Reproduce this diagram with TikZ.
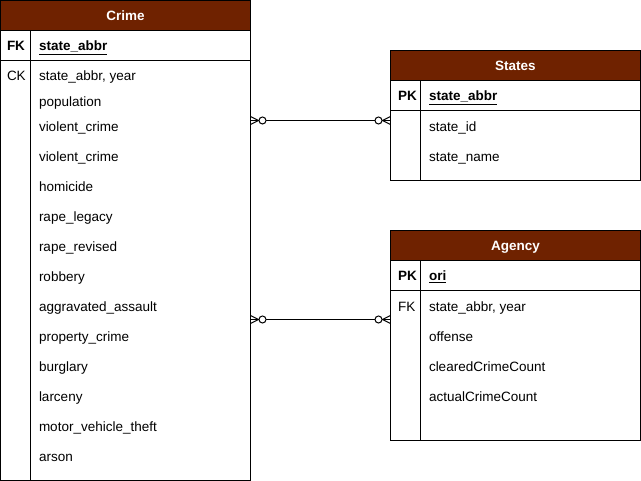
\documentclass[tikz,border=0pt]{standalone}
\usepackage{fontspec}
\setmainfont{Liberation Sans}
\usetikzlibrary{positioning}
\definecolor{hdrbrown}{RGB}{111,34,0}
\tikzset{
	hdrtext/.style={text=white, yshift=-1.5pt, text height=10pt, text depth=3pt, font=\bfseries\fontsize{13.5}{16}\selectfont},
	keytext/.style={anchor=west, inner sep=0pt, yshift=-1.5pt, text height=10pt, text depth=3pt, font=\fontsize{13.5}{16}\selectfont},
	pktext/.style={keytext, font=\bfseries\fontsize{13.5}{16}\selectfont},
	zeromany/.pic={
		\draw (0,-4) -- (8,0) -- (0,4);
		\draw (0,0) -- (8,0);
		\draw[fill=white] (12,0) circle (3.5pt);
	}
}
\begin{document}
\begin{tikzpicture}[x=1pt, y=-1pt, line width=1pt]
	\useasboundingbox (-0.5,-0.5) rectangle (640.5,480.5);

	% Crime
	\draw[fill=hdrbrown] (0,0) rectangle (250,30);
	\draw (0,30) rectangle (250,480);
	\draw (0,60) -- (250,60);
	\draw (30,30) -- (30,480);
	\node[hdrtext] (crime) at (125,15.5) {Crime};
	\node[pktext] (crime-fk) at (6,45.5) {FK};
	\node[pktext] (crime-pk) at (38,45.5) {\underline{state\_abbr}};
	\node[keytext] (crime-ck) at (6,75.5) {CK};
	\foreach \y/\f [count=\i] in {75.5/{state\_abbr, year}, 101.5/population, 126.5/violent\_crime,
		156.5/violent\_crime, 186.5/homicide, 216.5/rape\_legacy, 246.5/rape\_revised, 276.5/robbery,
		306.5/aggravated\_assault, 336.5/property\_crime, 366.5/burglary, 396.5/larceny,
		426.5/motor\_vehicle\_theft, 456.5/arson}
		\node[keytext] (crime-f\i) at (38,\y) {\f};

	% States
	\draw[fill=hdrbrown] (390,50) rectangle (640,80);
	\draw (390,80) rectangle (640,180);
	\draw (390,110) -- (640,110);
	\draw (420,80) -- (420,180);
	\node[hdrtext] (states) at (515,65.5) {States};
	\node[pktext] (states-pk) at (397,95.5) {PK};
	\node[pktext] (states-key) at (428,95.5) {\underline{state\_abbr}};
	\node[keytext] (states-f1) at (428,126.5) {state\_id};
	\node[keytext] (states-f2) at (428,156.5) {state\_name};

	% Agency
	\draw[fill=hdrbrown] (390,230) rectangle (640,260);
	\draw (390,260) rectangle (640,440);
	\draw (390,290) -- (640,290);
	\draw (420,260) -- (420,440);
	\node[hdrtext] (agency) at (515,245.5) {Agency};
	\node[pktext] (agency-pk) at (397,275.5) {PK};
	\node[pktext] (agency-key) at (428,275.5) {\underline{ori}};
	\node[keytext] (agency-fk) at (397,306.5) {FK};
	\foreach \y/\f [count=\i] in {306.5/{state\_abbr, year}, 336.5/offense,
		366.5/clearedCrimeCount, 396.5/actualCrimeCount}
		\node[keytext] (agency-f\i) at (428,\y) {\f};

	% relations
	\coordinate (crime-s) at (250,120);
	\coordinate (states-c) at (390,120);
	\coordinate (crime-a) at (250,319);
	\coordinate (agency-c) at (390,319);
	\draw (crime-s) -- (states-c);
	\draw (crime-a) -- (agency-c);
	\path (crime-s) pic {zeromany};
	\path (crime-a) pic {zeromany};
	\path (states-c) pic[xscale=-1] {zeromany};
	\path (agency-c) pic[xscale=-1] {zeromany};
\end{tikzpicture}
\end{document}
